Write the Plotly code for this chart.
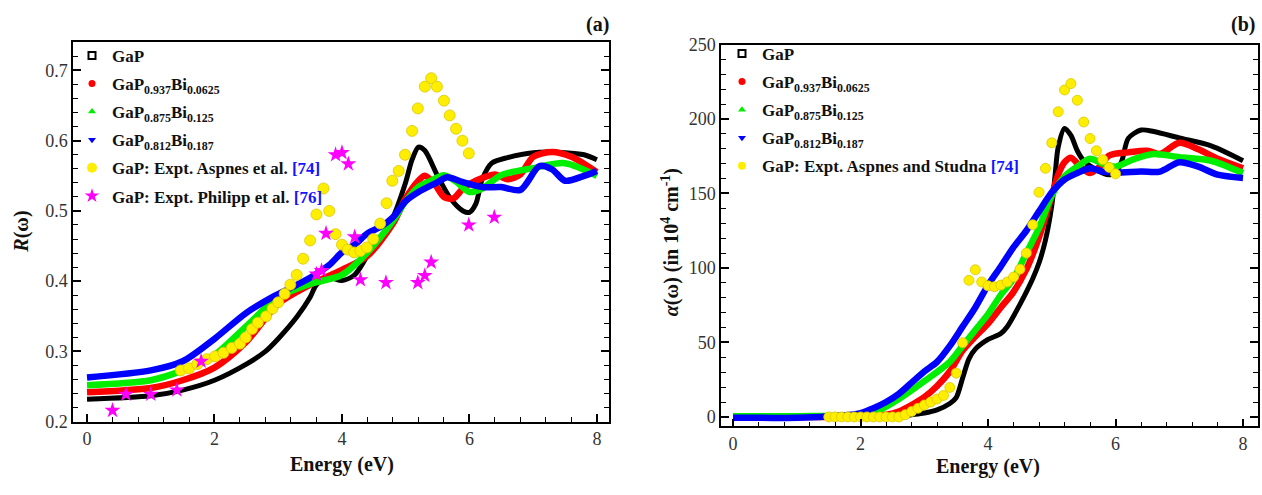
import plotly.graph_objects as go

# ---------------- (a) reflectivity R(w) ----------------
e_gap_a = [0, 1, 1.5, 2, 2.5, 2.8, 3, 3.3, 3.5, 3.6, 3.8, 4, 4.2, 4.4, 4.6, 4.8, 5.0, 5.1, 5.2,
           5.3, 5.5, 5.7, 5.9, 6.0, 6.1, 6.2, 6.35, 6.6, 7.0, 7.5, 7.8, 8.0]
r_gap = [0.232, 0.237, 0.245, 0.259, 0.282, 0.300, 0.318, 0.350, 0.377, 0.395, 0.405, 0.401, 0.409,
         0.436, 0.459, 0.491, 0.541, 0.573, 0.591, 0.586, 0.550, 0.518, 0.500, 0.498, 0.510, 0.545,
         0.568, 0.576, 0.583, 0.583, 0.580, 0.573]

e_bi1_a = [0, 1, 1.5, 2, 2.5, 3, 3.5, 4, 4.4, 4.8, 5.0, 5.2, 5.3, 5.45, 5.6, 5.75, 5.9, 6.1, 6.4,
           6.6, 6.8, 7.0, 7.3, 7.6, 8.0]
r_bi1 = [0.242, 0.248, 0.259, 0.277, 0.314, 0.368, 0.395, 0.416, 0.436, 0.482, 0.518, 0.543, 0.550,
         0.539, 0.520, 0.518, 0.532, 0.543, 0.552, 0.545, 0.552, 0.577, 0.584, 0.577, 0.555]

e_bi2_a = [0, 1, 1.5, 2, 2.5, 3, 3.5, 4, 4.4, 4.8, 5.0, 5.2, 5.4, 5.6, 5.8, 6.0, 6.2, 6.5, 7.0, 7.5, 8.0]
r_bi2 = [0.252, 0.259, 0.273, 0.295, 0.336, 0.377, 0.396, 0.409, 0.441, 0.486, 0.514, 0.534, 0.543,
         0.551, 0.541, 0.527, 0.532, 0.551, 0.561, 0.568, 0.550]

e_bi3_a = [0, 1, 1.5, 2, 2.5, 2.9, 3.1, 3.5, 3.8, 4.0, 4.2, 4.4, 4.6, 4.8, 5.0, 5.2, 5.5, 5.65, 5.9,
           6.2, 6.5, 6.8, 7.1, 7.3, 7.5, 7.8, 8.0]
r_bi3 = [0.263, 0.273, 0.286, 0.318, 0.355, 0.377, 0.386, 0.405, 0.423, 0.441, 0.452, 0.468, 0.477,
         0.491, 0.514, 0.527, 0.541, 0.548, 0.541, 0.534, 0.534, 0.530, 0.564, 0.559, 0.543, 0.550, 0.557]

e_aspnes_a = [1.47, 1.6, 1.73, 1.88, 2.01, 2.14, 2.27, 2.40, 2.49, 2.59, 2.68, 2.81, 2.91, 3.0, 3.1,
              3.19, 3.29, 3.39, 3.5, 3.6, 3.71, 3.8, 3.9, 4.0, 4.09, 4.19, 4.29, 4.39, 4.49, 4.6,
              4.7, 4.79, 4.89, 4.99, 5.1, 5.19, 5.3, 5.4, 5.49, 5.6, 5.69, 5.79, 5.89, 5.99]
r_aspnes = [0.273, 0.276, 0.282, 0.289, 0.293, 0.298, 0.305, 0.311, 0.320, 0.332, 0.341, 0.350,
            0.361, 0.370, 0.382, 0.395, 0.409, 0.432, 0.458, 0.495, 0.532, 0.500, 0.467, 0.452,
            0.445, 0.441, 0.443, 0.448, 0.460, 0.482, 0.511, 0.543, 0.557, 0.580, 0.614, 0.646,
            0.677, 0.689, 0.677, 0.657, 0.636, 0.617, 0.600, 0.582]

e_philipp = [0.40, 0.61, 1.0, 1.41, 1.79, 3.60, 3.68, 3.75, 3.90, 4.0, 4.1, 4.2, 4.29, 4.69, 5.19,
             5.30, 5.40, 5.99, 6.39]
r_philipp = [0.216, 0.239, 0.239, 0.245, 0.286, 0.410, 0.415, 0.468, 0.580, 0.583, 0.567, 0.463,
             0.402, 0.398, 0.398, 0.408, 0.427, 0.480, 0.491]

# ---------------- (b) absorption alpha(w) ----------------
e_gap_b = [0, 1, 2, 2.6, 2.8, 3.0, 3.2, 3.4, 3.5, 3.6, 3.7, 3.8, 4.0, 4.2, 4.3, 4.5, 4.7, 4.8, 4.9,
           5.0, 5.05, 5.1, 5.2, 5.3, 5.4, 5.5, 5.7, 5.9, 6.0, 6.1, 6.2, 6.4, 6.6, 7.0, 7.5, 8.0]
a_gap = [0, 0, 0, 0.5, 1.5, 2.6, 4.7, 9, 13, 26, 39, 45.5, 52, 56, 60.6, 75.6, 92.8, 103.5, 118.6,
         142, 161.5, 181, 193.7, 189, 178.7, 172, 165.8, 162.6, 163.7, 172, 187, 192.6, 191.6,
         187.3, 182, 172]

e_bi1_b = [0, 1, 2, 2.4, 2.6, 2.8, 3.0, 3.2, 3.4, 3.6, 3.8, 4.0, 4.2, 4.4, 4.6, 4.8, 5.0, 5.1, 5.2,
           5.3, 5.45, 5.6, 5.75, 5.9, 6.2, 6.5, 6.7, 7.0, 7.3, 7.6, 8.0]
a_bi1 = [0, 0, 0.3, 1.5, 3.6, 8, 13.3, 20.8, 30.5, 44.5, 54, 62.7, 73.5, 84, 99, 120.7, 148.6, 162.6,
         171, 174, 168, 163.7, 168, 175.5, 177.6, 178.7, 176.5, 184, 179.7, 173.3, 166.9]

e_bi2_b = [0, 1, 2.0, 2.3, 2.6, 3.0, 3.4, 3.6, 3.8, 4.0, 4.2, 4.4, 4.6, 4.8, 5.0, 5.2, 5.4, 5.6, 5.8,
           6.0, 6.3, 6.6, 7.0, 7.5, 8.0]
a_bi2 = [0.5, 0.5, 1.5, 4.7, 12, 24, 37, 47.7, 58.4, 69, 82, 92.8, 110, 127, 148.6, 161.5, 168,
         173.3, 170, 168, 173.3, 176.5, 174.4, 172, 163.7]

e_bi3_b = [0, 1, 1.8, 2.0, 2.2, 2.4, 2.6, 2.8, 3.0, 3.2, 3.4, 3.6, 3.8, 4.0, 4.2, 4.4, 4.6, 4.8, 5.0,
           5.2, 5.4, 5.6, 5.8, 6.0, 6.4, 6.7, 7.0, 7.3, 7.6, 8.0]
a_bi3 = [-0.5, -0.5, 1.3, 2.6, 5.8, 10, 15.5, 23, 30.5, 37, 47.7, 60.6, 73.5, 88.5, 101, 114, 125,
         138, 150.8, 159.4, 163.7, 167, 164.7, 164, 164.7, 164.7, 171, 168, 162.6, 160.4]

e_aspnes_b = [1.5, 1.6, 1.7, 1.8, 1.9, 2.0, 2.1, 2.2, 2.3, 2.4, 2.5, 2.6, 2.7, 2.8, 2.9, 3.0, 3.1,
              3.2, 3.3, 3.4, 3.5, 3.6, 3.7, 3.8, 3.9, 4.0, 4.1, 4.2, 4.3, 4.4, 4.5, 4.6, 4.7, 4.8,
              4.9, 5.0, 5.1, 5.2, 5.3, 5.4, 5.5, 5.6, 5.7, 5.8, 5.9, 6.0]
a_aspnes = [0, 0, 0, 0, 0, 0, 0, 0, 0, 0, 0, 0, 1.5, 3.6, 5.8, 8, 10, 12, 14.4, 19.8, 29.4, 49.8,
            91.7, 98.8, 90.6, 88, 87.4, 88.5, 90.6, 93.9, 99.2, 110, 129, 150.8, 166.9, 184, 204.9,
            219.5, 223.8, 212.6, 198, 186.9, 178.7, 172.7, 167.5, 163.2]

# ---------------- legend labels ----------------
names_theory = ["GaP",
                "GaP<sub>0.937</sub>Bi<sub>0.0625</sub>",
                "GaP<sub>0.875</sub>Bi<sub>0.125</sub>",
                "GaP<sub>0.812</sub>Bi<sub>0.187</sub>"]
name_aspnes_a = "GaP: Expt. Aspnes et al. <span style='color:#1414ff'>[74]</span>"
name_philipp = "GaP: Expt. Philipp et al. <span style='color:#1414ff'>[76]</span>"
name_aspnes_b = "GaP: Expt. Aspnes and Studna <span style='color:#1414ff'>[74]</span>"

colors = ["#000000", "#ff0000", "#00ee00", "#0000ff"]
widths = [5, 6.5, 6.5, 6.5]
symbols = ["square-open", "circle", "triangle-up", "triangle-down"]
YELLOW = "#ffee00"
MAGENTA = "#ff00ff"
SERIF = "Liberation Serif"

fig = go.Figure()

theory_a = [(e_gap_a, r_gap), (e_bi1_a, r_bi1), (e_bi2_a, r_bi2), (e_bi3_a, r_bi3)]
theory_b = [(e_gap_b, a_gap), (e_bi1_b, a_bi1), (e_bi2_b, a_bi2), (e_bi3_b, a_bi3)]

for (xs, ys), col, w in zip(theory_a, colors, widths):
    fig.add_trace(go.Scatter(x=xs, y=ys, mode="lines", line=dict(color=col, width=w, shape="spline", smoothing=0.8),
                             showlegend=False, xaxis="x", yaxis="y"))
fig.add_trace(go.Scatter(x=e_aspnes_a, y=r_aspnes, mode="markers", showlegend=False,
                         marker=dict(symbol="circle", size=11, color=YELLOW, line=dict(color="#d8c800", width=0.8)),
                         xaxis="x", yaxis="y"))
fig.add_trace(go.Scatter(x=e_philipp, y=r_philipp, mode="markers", showlegend=False,
                         marker=dict(symbol="star", size=12, color=MAGENTA, line=dict(width=0)),
                         xaxis="x", yaxis="y"))

for (xs, ys), col, w in zip(theory_b, colors, widths):
    fig.add_trace(go.Scatter(x=xs, y=ys, mode="lines", line=dict(color=col, width=w, shape="spline", smoothing=0.8),
                             showlegend=False, xaxis="x2", yaxis="y2"))
fig.add_trace(go.Scatter(x=e_aspnes_b, y=a_aspnes, mode="markers", showlegend=False,
                         marker=dict(symbol="circle", size=10, color=YELLOW, line=dict(color="#d8c800", width=0.8)),
                         xaxis="x2", yaxis="y2"))

# legend entries (symbol keys only); each in its own group so the group gap spaces the rows
def key(name, sym, col, size, legend, xa, ya, line_w=0):
    fig.add_trace(go.Scatter(x=[None], y=[None], mode="markers", name=name, legend=legend,
                             legendgroup=legend + name,
                             marker=dict(symbol=sym, size=size, color=col, line=dict(color=col, width=line_w)),
                             xaxis=xa, yaxis=ya))

for legend, xa, ya in [("legend", "x", "y"), ("legend2", "x2", "y2")]:
    for nm, sym, col in zip(names_theory, symbols, colors):
        key(nm, sym, col, 7, legend, xa, ya, line_w=2 if sym == "square-open" else 0)
key(name_aspnes_a, "circle", YELLOW, 10, "legend", "x", "y")
key(name_philipp, "star", MAGENTA, 11, "legend", "x", "y")
key(name_aspnes_b, "circle", YELLOW, 8, "legend2", "x2", "y2")

W, H = 1262, 495
def px(x):
    return x / W
def py(y):
    return 1 - y / H

tickfont = dict(family=SERIF, size=18, color="#333333")
xcommon = dict(showline=True, linecolor="black", linewidth=1.5, mirror=True, ticks="inside", ticklen=8,
               tickwidth=1.5, tickcolor="black", tick0=0, dtick=2, tickfont=tickfont, showgrid=False,
               zeroline=False,
               minor=dict(ticks="inside", ticklen=5, tickwidth=1.2, tickcolor="black", dtick=0.4, showgrid=False))
ycommon = dict(showline=True, linecolor="black", linewidth=1.5, mirror="allticks", ticks="inside", ticklen=8,
               tickwidth=1.5, tickcolor="black", tickfont=tickfont, showgrid=False, zeroline=False)

legfont = dict(family=SERIF, size=17, color="#111111", weight="bold")

fig.update_layout(
    width=W, height=H, margin=dict(l=0, r=0, t=0, b=0),
    paper_bgcolor="white", plot_bgcolor="white",
    xaxis=dict(domain=[px(73), px(609)], range=[-0.22, 8.19], anchor="y", **xcommon),
    yaxis=dict(domain=[py(429), py(33)], range=[0.2, 0.741], anchor="x", tick0=0.2, dtick=0.1,
               minor=dict(ticks="inside", ticklen=5, tickwidth=1.2, tickcolor="black", dtick=0.02, showgrid=False),
               **ycommon),
    xaxis2=dict(domain=[px(721), px(1258)], range=[-0.19, 8.235], anchor="y2", **xcommon),
    yaxis2=dict(domain=[py(434), py(36)], range=[-6.4, 250], anchor="x2", tick0=0, dtick=50,
                minor=dict(ticks="inside", ticklen=5, tickwidth=1.2, tickcolor="black", dtick=10, showgrid=False),
                **ycommon),
    legend=dict(x=px(72), y=py(29), xanchor="left", yanchor="top", bgcolor="rgba(0,0,0,0)",
                font=legfont, tracegroupgap=3, itemwidth=30),
    legend2=dict(x=px(722), y=py(27), xanchor="left", yanchor="top", bgcolor="rgba(0,0,0,0)",
                 font=legfont, tracegroupgap=3, itemwidth=30),
)

titlefont = dict(family=SERIF, size=20, color="#111111", weight="bold")
ann = [
    dict(text="(a)", x=px(597), y=py(15)),
    dict(text="(b)", x=px(1243), y=py(15)),
    dict(text="Energy (eV)", x=px(342), y=py(474)),
    dict(text="Energy (eV)", x=px(988), y=py(476)),
    dict(text="<i>R</i>(ω)", x=px(22), y=py(231), textangle=-90),
    dict(text="<i>α</i>(ω) (in 10<sup>4</sup> cm<sup>-1</sup>)", x=px(670), y=py(242), textangle=-90),
]
for a in ann:
    fig.add_annotation(xref="paper", yref="paper", showarrow=False, font=titlefont,
                       xanchor="center", yanchor="middle", **a)

fig.write_html("out.html")
